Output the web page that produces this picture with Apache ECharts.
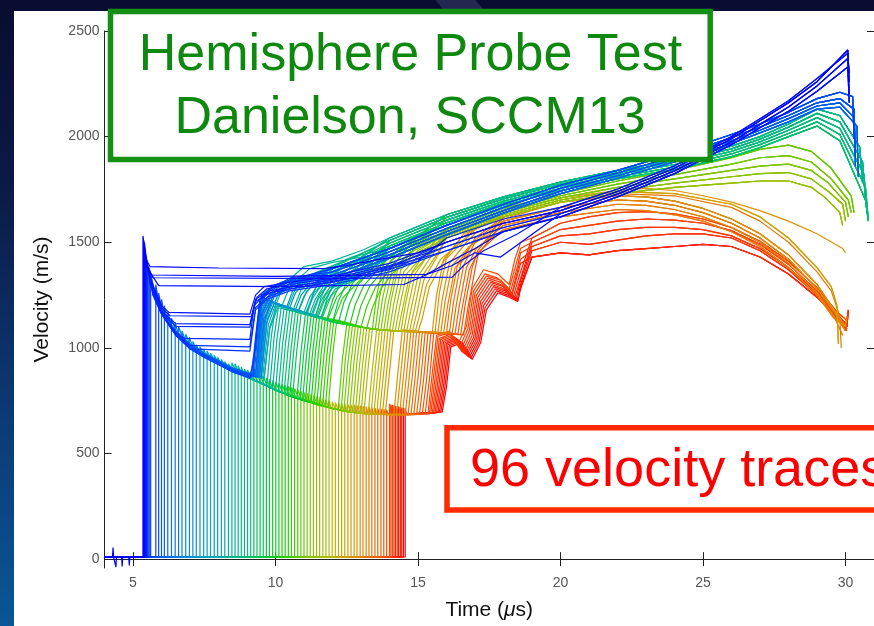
<!DOCTYPE html>
<html><head><meta charset="utf-8">
<script src="https://cdn.jsdelivr.net/npm/echarts@6/dist/echarts.min.js"></script>
<style>
html,body{margin:0;padding:0;width:874px;height:626px;overflow:hidden;}
body{background:linear-gradient(180deg,#0a0c30 0%,#0b1a46 30%,#0c3670 62%,#0a5696 100%);position:relative;}
#streak{position:absolute;left:440px;top:0;width:40px;height:11px;background:rgba(150,170,230,0.18);transform:skewX(40deg);}
#panel{position:absolute;left:14px;top:11px;width:860px;height:615px;background:#fff;}
#c{position:absolute;left:0;top:0;width:874px;height:626px;}
</style></head>
<body><div id="streak"></div><div id="panel"></div><div id="c"></div>
<script>
// ---------- axis ranges / ticks ----------
const X_MIN = 4, X_MAX = 31;
const Y_MIN = -42, Y_MAX = 2500;
const X_TICKS = [5, 10, 15, 20, 25, 30];
const Y_TICKS = [0, 500, 1000, 1500, 2000, 2500];
const BASE_V = 10;
// small noise on the earliest (blue) trace's baseline
const BASELINE_NOISE = [4.0,10, 4.28,10, 4.3,55, 4.32,10, 4.38,10, 4.4,-38, 4.42,10, 4.6,10, 4.62,-35, 4.64,10, 4.85,10, 4.87,-30, 4.89,10, 5.2,10];

// ---------- early paths: [t0, v0, t, v, ...] (after baseline jump) ----------
const BLUE_PATHS = [
 [5.35,1530, 5.45,1420, 5.6,1385, 8,1378, 11.7,1375, 12.5,1390, 13.7,1420, 15,1450],
 [5.37,1510, 5.47,1400, 5.62,1345, 10,1338, 15.3,1348, 16.2,1390, 17,1450, 17.9,1430],
 [5.39,1480, 5.5,1380, 5.9,1295, 10,1290, 14.5,1300, 15.2,1340, 16,1400, 17,1470],
 [5.40,1500, 5.5,1390, 5.7,1332, 12,1328, 16.2,1335, 16.6,1390, 17.3,1460, 18.5,1540],
 [5.42,1450, 5.6,1330, 6.0,1200, 6.26,1168, 9.1,1160, 9.3,1250, 9.6,1290, 10.5,1310, 12,1340, 14,1400],
 [5.44,1440, 5.6,1320, 6.0,1190, 6.3,1152, 9.15,1148, 9.35,1240, 9.7,1280, 10.5,1300, 12,1330, 14,1390],
 [5.46,1420, 5.6,1310, 6.0,1175, 6.5,1115, 9.1,1110, 9.3,1230, 9.8,1270, 11,1300, 13,1350, 15,1420],
 [5.48,1420, 5.6,1300, 6.0,1170, 6.5,1102, 9.1,1098, 9.3,1220, 9.8,1260, 11,1290, 13,1340, 15,1410],
 [5.50,1400, 5.7,1260, 6.0,1165, 6.5,1070, 6.8,1045, 9.1,1040, 9.25,1200, 9.6,1250, 10.5,1290, 12,1320, 14,1380],
 [5.53,1380, 5.7,1250, 6.0,1160, 6.5,1060, 7.0,1012, 9.1,1005, 9.3,1190, 9.7,1240, 10.5,1280, 12,1310, 14,1370],
 [5.57,1380, 5.7,1250, 6.0,1160, 6.5,1060, 7.0,995, 9.1,985, 9.3,1180, 9.7,1230, 10.5,1270, 12,1300, 14,1360]
];
const CYAN_PATHS = [
 [5.62,1350, 5.8,1240, 6.0,1165, 6.5,1060, 7.0,995, 7.5,955, 8,920, 8.5,885, 9.1,857, 9.3,1000, 9.45,1220, 9.8,1270, 10.5,1320],
 [5.80,1300, 5.9,1210, 6.0,1170, 6.5,1065, 7,1000, 7.5,960, 8,925, 8.5,890, 9.15,860, 9.3,1050, 9.45,1230, 9.8,1280, 10.5,1330],
 [5.90,1260, 6.0,1185, 6.5,1075, 7,1010, 7.5,968, 8,932, 8.5,898, 9.2,868, 9.35,1100, 9.5,1250, 9.9,1285, 10.5,1315],
 [6.00,1230, 6.1,1160, 6.5,1070, 7,1005, 7.5,962, 8,928, 8.5,893, 9.2,862, 9.4,1150, 9.6,1260, 10,1300, 11,1335],
 [6.10,1200, 6.2,1130, 6.5,1080, 7,1015, 7.5,970, 8,935, 8.5,900, 9.25,870, 9.45,1180, 9.7,1270, 10.2,1310, 11,1340],
 [6.22,1170, 6.35,1100, 6.75,1040, 7,1010, 7.5,965, 8,930, 8.5,895, 9.3,862, 9.5,1150, 9.8,1250, 10.5,1305],
 [6.35,1140, 6.5,1080, 7,1020, 7.5,975, 8,940, 8.5,905, 9.3,870, 9.5,1200, 9.9,1270, 10.5,1315],
 [6.48,1120, 6.6,1060, 7,1012, 7.5,968, 8,932, 8.5,896, 9.35,862, 9.55,1170, 9.9,1260, 10.6,1310],
 [6.60,1100, 6.75,1045, 7,1015, 7.5,972, 8,936, 8.5,900, 9.4,866, 9.6,1160, 10,1270, 10.8,1320],
 [6.72,1080, 6.85,1030, 7.5,965, 8,930, 8.5,895, 9.4,860, 9.6,1120, 9.9,1245, 10.6,1300],
 [6.85,1065, 7.0,1015, 7.5,970, 8,934, 8.5,898, 9.45,862, 9.65,1150, 10,1255, 10.8,1310],
 [6.98,1050, 7.1,1000, 7.5,968, 8,932, 8.5,896, 9.5,858, 9.7,1130, 10.1,1255, 11,1315],
 [7.10,1030, 7.25,985, 7.5,965, 8,930, 8.5,895, 9.3,862, 9.45,1150, 9.6,1235, 10,1210, 10.4,1195, 10.6,1270, 10.9,1310],
 [7.22,1015, 7.35,975, 8,935, 8.5,900, 9.35,866, 9.5,1160, 9.65,1230, 10,1212, 10.5,1190, 10.7,1260, 11,1305],
 [7.35,1005, 7.5,965, 8,938, 8.5,903, 9.35,868, 9.5,1170, 9.7,1228, 10.2,1200, 10.7,1180, 10.9,1250, 11.2,1300],
 [7.48,995, 7.6,955, 8,932, 8.5,897, 9.4,862, 9.55,1160, 9.75,1225, 10.3,1198, 10.8,1176, 11,1245, 11.3,1300],
 [7.60,985, 7.75,945, 8,935, 8.5,900, 9.4,864, 9.55,1150, 9.8,1222, 10.5,1190, 11,1168, 11.2,1240, 11.5,1300],
 [7.72,975, 7.85,940, 8.5,902, 9.45,866, 9.6,1140, 9.85,1220, 10.6,1186, 11.1,1165, 11.3,1235, 11.6,1295],
 [7.85,965, 8.0,928, 8.5,900, 9.5,862, 9.65,1130, 9.9,1215, 10.7,1182, 11.2,1160, 11.4,1230, 11.7,1295],
 [7.97,955, 8.1,922, 8.5,902, 9.5,864, 9.7,1120, 9.95,1210, 10.8,1178, 11.3,1156, 11.5,1230, 11.8,1290, 12.5,1320],
 [8.10,945, 8.25,912, 8.5,900, 9.55,860, 9.75,1110, 10,1205, 10.9,1174, 11.4,1152, 11.6,1225, 11.9,1285, 12.6,1320],
 [8.22,935, 8.35,905, 9.6,858, 9.8,1100, 10.05,1200, 11,1170, 11.5,1150, 11.7,1220, 12,1285, 12.7,1320],
 [8.35,925, 8.5,895, 9.6,856, 9.8,1090, 10.1,1198, 11,1170, 11.6,1146, 11.8,1215, 12.1,1280, 12.8,1320]
];
const GREEN_PATHS = [
 [8.47,930, 8.6,890, 9.0,862, 9.7,822, 9.85,1050, 10.0,1200, 10.3,1300, 11,1385, 12,1412],
 [8.58,925, 8.7,885, 9.0,860, 9.8,815, 9.95,1050, 10.1,1190, 10.6,1175, 11.1,1158, 11.3,1250, 11.6,1345, 12.5,1420],
 [8.69,915, 8.8,875, 9.5,835, 9.9,810, 10.05,1040, 10.2,1190, 10.5,1290, 11.2,1375, 12,1405],
 [8.80,910, 8.9,868, 9.5,833, 10.0,800, 10.15,1030, 10.3,1185, 10.9,1165, 11.4,1145, 11.6,1240, 11.9,1335, 12.7,1410],
 [8.91,900, 9.05,860, 9.5,832, 10.1,795, 10.25,1020, 10.4,1180, 10.7,1280, 11.4,1355, 12.2,1400, 13,1440],
 [9.02,895, 9.15,852, 9.5,830, 10.2,790, 10.35,1020, 10.5,1178, 11,1160, 11.6,1138, 11.8,1230, 12.1,1320, 12.9,1415],
 [9.13,890, 9.25,848, 10.0,800, 10.3,785, 10.45,1010, 10.6,1175, 10.9,1275, 11.6,1360, 12.4,1405],
 [9.24,885, 9.35,842, 10.0,800, 10.4,780, 10.55,1000, 10.7,1172, 11.2,1155, 11.8,1132, 12,1225, 12.3,1315, 13.1,1410],
 [9.35,875, 9.5,832, 10.0,798, 10.5,775, 10.65,1000, 10.8,1170, 11.1,1270, 11.8,1350, 12.6,1400],
 [9.46,870, 9.6,825, 10.6,770, 10.75,990, 10.9,1165, 11.4,1148, 12,1122, 12.2,1220, 12.5,1310, 13.3,1420],
 [9.57,865, 9.7,820, 10.5,772, 10.75,762, 10.9,990, 11.05,1160, 11.35,1260, 12,1350, 12.8,1410],
 [9.68,858, 9.8,815, 10.5,770, 10.85,758, 11.0,985, 11.15,1158, 11.6,1140, 12.2,1115, 12.4,1215, 12.7,1305, 13.5,1420],
 [9.79,850, 9.9,808, 10.5,772, 10.95,752, 11.1,980, 11.25,1155, 11.55,1255, 12.2,1345, 13,1410],
 [9.90,845, 10.0,800, 10.5,772, 11.05,748, 11.2,980, 11.35,1152, 11.8,1135, 12.4,1110, 12.6,1210, 12.9,1300, 13.7,1420],
 [10.01,838, 10.15,792, 10.5,772, 11.15,745, 11.3,975, 11.45,1150, 11.75,1250, 12.4,1340, 13.2,1410],
 [10.12,832, 10.25,788, 11.0,750, 11.25,742, 11.4,975, 11.55,1148, 12,1130, 12.6,1106, 12.8,1205, 13.1,1295, 13.9,1420],
 [10.23,828, 10.35,785, 11.0,750, 11.35,738, 11.5,970, 11.65,1145, 11.95,1245, 12.6,1335, 13.4,1410],
 [10.34,822, 10.45,780, 11.0,750, 11.45,733, 11.6,968, 11.75,1142, 12.2,1126, 12.8,1102, 13.0,1200, 13.3,1290, 14.1,1420],
 [10.45,818, 10.6,775, 11.0,752, 11.55,730, 11.7,965, 11.85,1140, 12.15,1240, 12.8,1330, 13.6,1410],
 [10.56,812, 10.7,770, 11.5,732, 11.65,726, 11.8,962, 11.95,1138, 12.4,1122, 13,1098, 13.2,1195, 13.5,1285, 14.3,1420],
 [10.67,808, 10.8,765, 11.5,734, 11.75,722, 11.9,960, 12.05,1135, 12.35,1235, 13,1325, 13.8,1405],
 [10.78,803, 10.9,760, 11.5,734, 11.85,719, 12.0,958, 12.15,1132, 12.6,1116, 13.2,1094, 13.4,1190, 13.7,1280, 14.5,1420]
];
const YELLOW_PATHS = [
 [10.89,795, 11.0,755, 11.5,730, 12.2,707, 12.35,950, 12.5,1110, 13,1098, 13.4,1090, 13.55,1250, 13.8,1400, 14.4,1480, 15,1520],
 [11.00,790, 11.1,750, 11.5,728, 12.3,705, 12.45,945, 12.6,1108, 13.1,1096, 13.5,1088, 13.65,1240, 13.9,1390, 14.5,1470, 15.1,1510],
 [11.11,785, 11.2,745, 12.0,712, 12.4,702, 12.55,940, 12.7,1105, 13.2,1094, 13.6,1086, 13.75,1230, 14.0,1380, 14.6,1460, 15.2,1500],
 [11.22,780, 11.3,740, 12.0,712, 12.5,700, 12.65,935, 12.8,1102, 13.3,1092, 13.7,1085, 13.85,1220, 14.1,1370, 14.7,1450, 15.3,1490],
 [11.33,775, 11.45,735, 12.0,712, 12.6,697, 12.75,930, 12.9,1100, 13.4,1090, 13.8,1084, 13.95,1210, 14.2,1360, 14.8,1440, 15.4,1480],
 [11.44,770, 11.55,730, 12.0,712, 12.7,695, 12.85,925, 13.0,1098, 13.5,1088, 13.9,1083, 14.05,1220, 14.3,1380, 14.9,1470, 15.5,1520],
 [11.55,765, 11.65,726, 12.5,698, 12.8,693, 12.95,920, 13.1,1096, 13.6,1086, 14.0,1082, 14.15,1210, 14.4,1370, 15.0,1460, 15.6,1510],
 [11.66,760, 11.75,722, 12.5,698, 12.9,691, 13.05,915, 13.2,1094, 13.7,1085, 14.1,1081, 14.25,1200, 14.5,1360, 15.1,1450, 15.7,1500],
 [11.77,755, 11.85,718, 12.5,698, 13.0,690, 13.15,910, 13.3,1092, 13.8,1084, 14.2,1080, 14.35,1190, 14.6,1350, 15.2,1440, 15.7,1490],
 [11.88,750, 11.95,714, 12.5,698, 13.1,689, 13.25,905, 13.4,1090, 13.9,1083, 14.3,1079, 14.45,1180, 14.7,1340, 15.3,1430, 15.7,1480],
 [11.99,745, 12.1,710, 13.0,690, 13.25,688, 13.4,900, 13.55,1088, 14.0,1082, 14.4,1078, 14.55,1200, 14.8,1360, 15.3,1460, 15.7,1520],
 [12.10,742, 12.2,707, 13.0,690, 13.35,687, 13.5,900, 13.65,1087, 14.1,1081, 14.5,1078, 14.65,1190, 14.9,1350, 15.4,1450, 15.7,1500],
 [12.21,740, 12.3,705, 13.0,690, 13.45,686, 13.6,895, 13.75,1086, 14.2,1080, 14.6,1077, 14.75,1180, 15.0,1340, 15.5,1440, 15.7,1480],
 [12.32,738, 12.4,702, 13.0,690, 13.55,686, 13.7,895, 13.85,1085, 14.3,1079, 14.7,1077, 14.85,1170, 15.1,1330, 15.7,1450],
 [12.43,735, 12.5,700, 13.0,690, 13.65,685, 13.8,890, 13.95,1084, 14.4,1078, 14.8,1076, 14.95,1160, 15.2,1320, 15.7,1440],
 [12.54,732, 12.65,698, 13.5,686, 13.75,685, 13.9,890, 14.05,1083, 14.5,1078, 14.9,1076, 15.05,1150, 15.3,1300, 15.8,1420, 16.5,1500],
 [12.65,730, 12.75,696, 13.5,686, 13.85,684, 14.0,885, 14.15,1082, 14.6,1077, 15.0,1075, 15.15,1140, 15.4,1290, 15.9,1410, 16.5,1490]
];
const ORANGE_PATHS = [
 [12.76,730, 12.85,695, 13.5,686, 14.15,683, 14.3,890, 14.45,1085, 15,1078, 15.5,1075, 15.65,1250, 15.9,1420, 16.5,1520],
 [12.86,728, 12.95,692, 13.5,686, 14.25,683, 14.4,885, 14.55,1082, 15.1,1077, 15.6,1074, 15.75,1260, 16.0,1430, 16.6,1540],
 [12.97,726, 13.05,690, 14.35,682, 14.5,880, 14.65,1080, 15.2,1076, 15.7,1073, 15.85,1230, 16.1,1400, 16.7,1500],
 [13.07,724, 13.15,690, 14.45,682, 14.6,875, 14.75,1078, 15.3,1075, 15.8,1072, 15.95,1220, 16.2,1390, 16.8,1480],
 [13.18,722, 13.25,688, 14.55,682, 14.7,870, 14.85,1076, 15.4,1074, 15.9,1072, 16.05,1210, 16.3,1380, 16.9,1460],
 [13.28,720, 13.35,688, 14.65,683, 14.8,865, 14.95,1075, 15.5,1073, 16.0,1072, 16.15,1230, 16.4,1400, 17.0,1510],
 [13.38,718, 13.45,687, 14.75,683, 14.9,860, 15.05,1074, 15.6,1072, 16.1,1071, 16.25,1220, 16.5,1400, 17.0,1520],
 [13.49,716, 13.55,686, 14.85,684, 15.0,860, 15.15,1073, 15.7,1071, 16.2,1070, 16.35,1210, 16.6,1390, 17.0,1500],
 [13.59,714, 13.65,686, 14.95,684, 15.1,855, 15.25,1072, 15.8,1070, 16.3,1068, 16.45,1200, 16.7,1380, 17.05,1470],
 [13.70,712, 13.75,685, 15.05,685, 15.2,855, 15.35,1071, 15.9,1068, 16.4,1066, 16.55,1190, 16.8,1370, 17.1,1450],
 [13.80,710, 13.85,685, 15.15,686, 15.3,850, 15.45,1070, 16.0,1066, 16.5,1064, 16.65,1200, 16.9,1380, 17.1,1460],
 [13.90,708, 13.95,685, 15.25,687, 15.4,850, 15.55,1068, 16.1,1065, 16.6,1062, 16.75,1190, 17.0,1370, 17.1,1440]
];
const RED_PATHS = [
 [14.00,735, 14.05,690, 15.35,688, 15.5,880, 15.65,1060, 16.1,1080, 16.4,1020, 16.7,1100, 16.9,1280, 17.3,1370, 17.8,1350, 18.2,1300, 18.4,1420, 18.6,1500],
 [14.05,732, 14.1,690, 15.4,688, 15.55,870, 15.7,1055, 16.1,1070, 16.45,1000, 16.75,1090, 16.95,1270, 17.35,1350, 17.8,1330, 18.2,1280, 18.45,1400, 18.6,1470],
 [14.10,730, 14.15,688, 15.45,690, 15.6,860, 15.75,1045, 16.15,1065, 16.5,990, 16.8,1080, 17.0,1260, 17.4,1340, 17.9,1320, 18.25,1270, 18.5,1390, 18.6,1450],
 [14.16,728, 14.2,688, 15.5,690, 15.65,850, 15.8,1040, 16.2,1060, 16.55,980, 16.85,1070, 17.05,1250, 17.45,1330, 17.9,1310, 18.3,1260, 18.5,1370, 18.6,1420],
 [14.21,726, 14.25,687, 15.55,691, 15.7,845, 15.85,1035, 16.25,1055, 16.6,975, 16.9,1060, 17.1,1240, 17.5,1320, 17.9,1300, 18.3,1250, 18.5,1350, 18.6,1400],
 [14.27,724, 14.3,687, 15.6,692, 15.75,840, 15.9,1030, 16.3,1050, 16.65,970, 16.95,1050, 17.15,1230, 17.55,1310, 18.0,1290, 18.35,1245, 18.55,1340],
 [14.32,722, 14.35,686, 15.65,693, 15.8,835, 15.95,1025, 16.35,1045, 16.7,965, 17.0,1045, 17.2,1220, 17.6,1300, 18.0,1280, 18.4,1240, 18.6,1330],
 [14.38,720, 14.4,686, 15.7,694, 15.85,830, 16.0,1020, 16.4,1040, 16.75,960, 17.05,1040, 17.25,1210, 17.65,1290, 18.05,1270, 18.45,1235, 18.6,1320],
 [14.43,718, 14.45,685, 15.75,695, 15.9,825, 16.05,1015, 16.45,1035, 16.8,955, 17.1,1035, 17.3,1200, 17.7,1280, 18.1,1260, 18.5,1230, 18.6,1300],
 [14.49,716, 14.5,685, 15.8,696, 15.95,820, 16.1,1010, 16.5,1030, 16.85,950, 17.15,1030, 17.35,1190, 17.75,1270, 18.15,1250, 18.5,1225, 18.6,1290],
 [14.55,714, 14.6,684, 15.85,697, 16.0,815, 16.15,1005, 16.55,1025, 16.9,945, 17.2,1025, 17.4,1180, 17.8,1260, 18.2,1240, 18.5,1220, 18.6,1280]
];

// ---------- late-time profiles [t, v, ...] ----------
const BLUE_LATE = [
 [16,1500, 18,1590, 20,1650, 22,1740, 24,1850, 26,1990, 27,2075, 28,2160, 29,2260, 30.08,2410, 30.13,2260],
 [16,1480, 18,1570, 20,1635, 22,1728, 24,1838, 26,1975, 27,2058, 28,2140, 29,2240, 30.08,2370, 30.13,2200],
 [16,1460, 18,1550, 20,1620, 22,1715, 24,1825, 26,1962, 27,2042, 28,2120, 29,2215, 30.08,2330, 30.13,2160],
 [16,1520, 18,1610, 20,1665, 22,1752, 24,1862, 26,2000, 27,2085, 28,2170, 29,2275, 30.08,2395, 30.13,2300]
];
const CYAN_LATE = [
 [12,1375, 14,1470, 16,1580, 18,1680, 20,1770, 22,1840, 24,1920, 26,2010, 27,2060, 28,2115, 29,2180, 29.8,2210, 30.25,2190, 30.3,1990],
 [12,1360, 14,1455, 16,1565, 18,1665, 20,1755, 22,1828, 24,1905, 26,1995, 27,2045, 28,2100, 29,2160, 29.8,2180, 30.3,2130, 30.35,1910],
 [12,1345, 14,1440, 16,1550, 18,1650, 20,1742, 22,1815, 24,1892, 26,1980, 27,2030, 28,2085, 29,2145, 29.8,2160, 30.3,2090, 30.35,1860],
 [12,1330, 14,1425, 16,1535, 18,1638, 20,1730, 22,1803, 24,1880, 26,1968, 27,2018, 28,2070, 29,2130, 29.8,2140, 30.4,2050, 30.45,1810]
];
const GREEN_LATE = [
 [13,1460, 14,1520, 16,1630, 18,1715, 20,1785, 22,1840, 24,1890, 26,1955, 27,2000, 28,2060, 29,2130, 29.8,2100, 30.5,1950, 30.6,1780],
 [13,1445, 14,1508, 16,1618, 18,1705, 20,1775, 22,1830, 24,1880, 26,1942, 27,1988, 28,2045, 29,2110, 29.8,2070, 30.6,1880, 30.7,1700],
 [13,1430, 14,1495, 16,1605, 18,1695, 20,1765, 22,1820, 24,1868, 26,1930, 27,1975, 28,2030, 29,2090, 29.8,2040, 30.65,1820, 30.75,1640],
 [13,1415, 14,1482, 16,1592, 18,1685, 20,1755, 22,1810, 24,1856, 26,1918, 27,1962, 28,2015, 29,2070, 29.8,2010, 30.7,1760, 30.8,1610],
 [14,1470, 15,1530, 16,1580, 18,1675, 20,1745, 22,1800, 24,1845, 26,1905, 27,1948, 28,2000, 29,2050, 29.8,1980, 30.7,1700, 30.8,1600]
];
const YELLOW_LATE = [
 [16,1560, 18,1660, 20,1730, 22,1790, 24,1840, 26,1900, 27,1940, 28,1960, 28.8,1930, 29.5,1850, 30.2,1720, 30.3,1640],
 [16,1550, 18,1650, 20,1720, 22,1775, 24,1820, 26,1870, 27,1900, 28,1910, 28.8,1880, 29.5,1800, 30.1,1700, 30.2,1640],
 [16,1540, 18,1640, 20,1710, 22,1760, 24,1800, 26,1840, 27,1860, 28,1870, 28.8,1840, 29.4,1780, 30.0,1690, 30.1,1620],
 [16,1530, 18,1630, 20,1700, 22,1745, 24,1780, 26,1810, 27,1825, 28,1830, 28.8,1800, 29.4,1740, 29.9,1680, 30.0,1600],
 [16,1520, 18,1620, 20,1690, 22,1730, 24,1760, 26,1780, 27,1790, 28,1790, 28.8,1760, 29.3,1710, 29.8,1640, 29.9,1580],
 [17,1560, 18,1630, 20,1700, 22,1740, 24,1730, 26,1680, 27,1620, 28,1520, 29,1380, 29.5,1290, 29.7,1200, 29.75,1020]
];
const ORANGE_LATE = [
 [17,1560, 18,1640, 20,1710, 22,1745, 23,1755, 24,1745, 25,1720, 26,1690, 27,1650, 28,1600, 29,1540, 29.9,1470, 30,1450],
 [17,1560, 18,1620, 20,1690, 22,1720, 23,1715, 24,1695, 25,1660, 26,1610, 27,1540, 28,1440, 29,1300, 29.6,1180, 30,1100, 30.05,1150],
 [17,1540, 18,1600, 20,1665, 22,1700, 23,1695, 24,1675, 25,1640, 26,1590, 27,1520, 28,1420, 29,1280, 29.6,1170, 30,1080],
 [17,1520, 18,1580, 20,1640, 22,1680, 23,1675, 24,1655, 25,1620, 26,1570, 27,1500, 28,1400, 29,1260, 29.6,1150, 29.9,1060],
 [17,1500, 18,1560, 20,1620, 22,1655, 23,1650, 24,1630, 25,1600, 26,1550, 27,1480, 28,1380, 29,1250, 29.6,1140, 30,1100],
 [17,1540, 18,1610, 20,1690, 22,1730, 24,1720, 26,1665, 27,1600, 28,1500, 29,1360, 29.5,1270, 29.8,1150, 29.85,1000]
];
const RED_LATE = [
 [19,1430, 20,1450, 21,1440, 22,1460, 23,1470, 24,1480, 25,1490, 26,1480, 27,1430, 28,1350, 29,1240, 29.6,1160, 30.05,1100, 30.1,1180],
 [19,1460, 20,1500, 21,1490, 22,1510, 23,1530, 24,1540, 25,1540, 26,1520, 27,1460, 28,1370, 29,1250, 29.7,1140, 30.05,1080],
 [19,1480, 20,1530, 21,1540, 22,1560, 23,1570, 24,1570, 25,1560, 26,1530, 27,1470, 28,1380, 29,1260, 29.7,1150, 30.05,1090],
 [19,1500, 20,1560, 21,1580, 22,1600, 23,1610, 24,1605, 25,1590, 26,1555, 27,1490, 28,1395, 29,1270, 29.7,1160, 30.05,1110],
 [19,1520, 20,1590, 21,1620, 22,1640, 23,1645, 24,1635, 25,1610, 26,1570, 27,1505, 28,1410, 29,1285, 29.7,1170, 30.05,1130]
];
// which late profile each trace continues with
const BLUE_PROFILE = [0,1,2,3,0,1,2,3,0,1,2];
const CYAN_PROFILE = [0,1,2,3,0,1,2,3,0,1,2,3,0,1,2,3,0,1,2,3,0,1,2];
const GREEN_PROFILE = [0,1,2,3,4,0,1,2,3,4,0,1,2,3,4,0,1,2,3,4,0,1];
const YELLOW_PROFILE = [0,1,2,3,4,0,1,2,3,4,0,1,2,3,4,5,5];
const ORANGE_PROFILE = [1,0,2,3,4,5,1,2,3,4,1,2];
const RED_PROFILE = [4,3,2,1,0,4,3,2,1,0,0];

// ---------- colour map (blue -> red, by trace order) ----------
const CMAP = [[0,'#0000ff'],[0.10,'#0030ff'],[0.18,'#0070f0'],[0.28,'#00a0c8'],[0.38,'#00b890'],
  [0.46,'#00c850'],[0.54,'#20d000'],[0.62,'#80c800'],[0.70,'#b8b800'],[0.78,'#e09000'],
  [0.86,'#f06000'],[0.93,'#ff3000'],[1,'#ff0000']];
function hex2rgb(h){return [parseInt(h.slice(1,3),16),parseInt(h.slice(3,5),16),parseInt(h.slice(5,7),16)];}
function cmap(f){
  for(let k=0;k<CMAP.length-1;k++){
    const a=CMAP[k], b=CMAP[k+1];
    if(f<=b[0]){
      const u=(f-a[0])/(b[0]-a[0]); const A=hex2rgb(a[1]), B=hex2rgb(b[1]);
      return 'rgb('+A.map((c,j)=>Math.round(c+(B[j]-c)*u)).join(',')+')';
    }
  }
  return CMAP[CMAP.length-1][1];
}

// ---------- build traces ----------
const families = [
  [BLUE_PATHS, BLUE_LATE, BLUE_PROFILE],
  [CYAN_PATHS, CYAN_LATE, CYAN_PROFILE],
  [GREEN_PATHS, GREEN_LATE, GREEN_PROFILE],
  [YELLOW_PATHS, YELLOW_LATE, YELLOW_PROFILE],
  [ORANGE_PATHS, ORANGE_LATE, ORANGE_PROFILE],
  [RED_PATHS, RED_LATE, RED_PROFILE]
];
const traces = [];
families.forEach(([paths, late, prof]) => paths.forEach((p, k) => traces.push({path: p, late: late[prof[k]]})));
const N = traces.length;
const series = [];
traces.forEach((tr, i) => {
  const pts = [];
  if (i === 0) { for (let j = 0; j < BASELINE_NOISE.length; j += 2) pts.push([BASELINE_NOISE[j], BASELINE_NOISE[j+1]]); }
  else pts.push([X_MIN, BASE_V]);
  pts.push([tr.path[0], BASE_V]);
  for (let j = 0; j < tr.path.length; j += 2) pts.push([tr.path[j], tr.path[j+1]]);
  const lastT = tr.path[tr.path.length - 2];
  for (let j = 0; j < tr.late.length; j += 2) if (tr.late[j] > lastT + 0.25) pts.push([tr.late[j], tr.late[j+1]]);
  series.push({
    type: 'line', data: pts, showSymbol: false, symbol: 'none', silent: true,
    animation: false, clip: true, lineStyle: {width: 1.2, color: cmap(i / (N - 1))}
  });
});
series.reverse(); // earliest (blue) traces drawn on top

const FONT = "'Liberation Sans', Arial, Helvetica, sans-serif";
const axisLineStyle = {color: '#222', width: 1};
const plain = v => String(v);
const chart = echarts.init(document.getElementById('c'), null, {renderer: 'canvas'});
chart.setOption({
  backgroundColor: 'transparent',
  animation: false,
  grid: {left: 104.5, top: 31, width: 770, height: 544, containLabel: false},
  xAxis: [
    {type: 'value', min: X_MIN, max: X_MAX, position: 'bottom',
     axisLine: {show: true, lineStyle: axisLineStyle},
     axisTick: {show: true, inside: true, length: 7, customValues: X_TICKS, lineStyle: axisLineStyle},
     axisLabel: {customValues: X_TICKS, formatter: plain, color: '#555', fontSize: 14, margin: 8, fontFamily: FONT},
     splitLine: {show: false},
     name: 'Time ({i|μ}s)', nameLocation: 'middle', nameGap: 32,
     nameTextStyle: {color: '#111', fontSize: 21, fontFamily: FONT, rich: {i: {fontStyle: 'italic', fontSize: 21, fontFamily: FONT, color: '#111'}}}},
    {type: 'value', min: X_MIN, max: X_MAX, position: 'top',
     axisLine: {show: true, lineStyle: axisLineStyle},
     axisTick: {show: true, inside: true, length: 7, customValues: X_TICKS, lineStyle: axisLineStyle},
     axisLabel: {show: false}, splitLine: {show: false}}
  ],
  yAxis: [
    {type: 'value', min: Y_MIN, max: Y_MAX, position: 'left',
     axisLine: {show: true, lineStyle: axisLineStyle},
     axisTick: {show: true, inside: true, length: 7, customValues: Y_TICKS, lineStyle: axisLineStyle},
     axisLabel: {customValues: Y_TICKS, formatter: plain, color: '#555', fontSize: 14, margin: 5, fontFamily: FONT},
     splitLine: {show: false},
     name: 'Velocity (m/s)', nameLocation: 'middle', nameGap: 52,
     nameTextStyle: {color: '#111', fontSize: 21, fontFamily: FONT}},
    {type: 'value', min: Y_MIN, max: Y_MAX, position: 'right',
     axisLine: {show: true, lineStyle: axisLineStyle},
     axisTick: {show: true, inside: true, length: 7, customValues: Y_TICKS, lineStyle: axisLineStyle},
     axisLabel: {show: false}, splitLine: {show: false}}
  ],
  series: series,
  graphic: [
    {type: 'rect', z: 100, shape: {x: 110.5, y: 11.4, width: 599.7, height: 148.1},
     style: {fill: '#ffffff', stroke: '#149014', lineWidth: 5.5}},
    {type: 'text', z: 101, x: 410.5, y: 56,
     style: {text: 'Hemisphere Probe Test', fill: '#0e880e', font: "52px 'Liberation Sans', Arial, sans-serif", textAlign: 'center', textVerticalAlign: 'middle'}},
    {type: 'text', z: 101, x: 410, y: 119,
     style: {text: 'Danielson, SCCM13', fill: '#0e880e', font: "52px 'Liberation Sans', Arial, sans-serif", textAlign: 'center', textVerticalAlign: 'middle'}},
    {type: 'rect', z: 100, shape: {x: 447, y: 427.8, width: 460, height: 82.2},
     style: {fill: '#ffffff', stroke: '#ff2a00', lineWidth: 5.5}},
    {type: 'text', z: 101, x: 470, y: 471,
     style: {text: '96 velocity traces', fill: '#ff0000', font: "54px 'Liberation Sans', Arial, sans-serif", textAlign: 'left', textVerticalAlign: 'middle'}}
  ]
});
</script></body></html>
